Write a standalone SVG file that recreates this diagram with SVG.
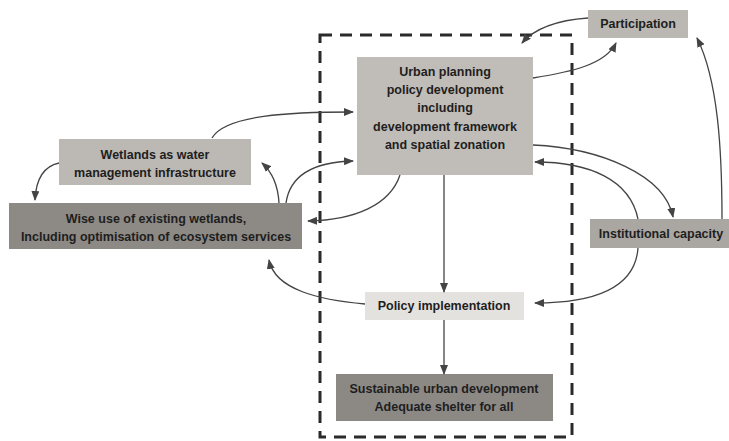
<svg xmlns="http://www.w3.org/2000/svg" width="729" height="441" viewBox="0 0 729 441">
<style>
text{font-family:"Liberation Sans",Arial,sans-serif;font-weight:bold;font-size:12.5px;fill:#1e1e1e;text-anchor:middle}
.c{fill:none;stroke:#444;stroke-width:1.3}
</style>
<defs>
<marker id="ah" markerWidth="10" markerHeight="8" refX="9" refY="4" orient="auto" markerUnits="userSpaceOnUse">
<path d="M0,0 L10,4 L0,8 z" fill="#444"/>
</marker>
</defs>
<rect width="729" height="441" fill="#fff"/>
<rect id="boundary" x="320" y="35" width="252" height="402" fill="none" stroke="#2a2a2a" stroke-width="3" stroke-dasharray="12,8"/>
<g id="n-urban"><rect x="357" y="57" width="176" height="118" fill="#c0bcb7"/>
<text x="445" y="76">Urban planning</text><text x="445" y="94">policy development</text><text x="445" y="112">including</text><text x="445" y="131">development framework</text><text x="445" y="149">and spatial zonation</text></g>
<g id="n-participation"><rect x="588" y="10" width="100" height="28" fill="#bbb7b2"/><text x="638" y="28">Participation</text></g>
<g id="n-institutional"><rect x="590" y="219" width="139" height="29" fill="#aaa6a1"/><text x="661" y="238">Institutional capacity</text></g>
<g id="n-policy"><rect x="365" y="292" width="159" height="28" fill="#e4e2df"/><text x="444" y="310">Policy implementation</text></g>
<g id="n-sustainable"><rect x="336" y="374" width="217" height="47" fill="#8c8985"/><text x="444" y="393">Sustainable urban development</text><text x="444" y="411">Adequate shelter for all</text></g>
<g id="n-wetlands"><rect x="59" y="139" width="192" height="46" fill="#bcb8b3"/><text x="155" y="159">Wetlands as water</text><text x="155" y="177">management infrastructure</text></g>
<g id="n-wiseuse"><rect x="9" y="203" width="293" height="46" fill="#8d8a85"/><text x="156" y="223">Wise use of existing wetlands,</text><text x="156" y="241">Including optimisation of ecosystem services</text></g>
<g id="connectors">
<path class="c" d="M444,175 L444,292" marker-end="url(#ah)"/>
<path class="c" d="M444,320 L444,374" marker-end="url(#ah)"/>
<path class="c" d="M588,18 C560,20 535,28 522,43" marker-end="url(#ah)"/>
<path class="c" d="M533,78 C570,72 605,65 616,43" marker-end="url(#ah)"/>
<path class="c" d="M722,219 C722,150 718,80 697,38" marker-end="url(#ah)"/>
<path class="c" d="M533,145 C600,148 665,175 673,217" marker-end="url(#ah)"/>
<path class="c" d="M638,219 C630,180 590,162 535,162" marker-end="url(#ah)"/>
<path class="c" d="M638,248 C635,290 590,303 535,303" marker-end="url(#ah)"/>
<path class="c" d="M365,304 C320,300 275,290 269,260" marker-end="url(#ah)"/>
<path class="c" d="M286,203 C290,175 315,162 353,161" marker-end="url(#ah)"/>
<path class="c" d="M400,175 C390,205 355,220 308,221" marker-end="url(#ah)"/>
<path class="c" d="M279,203 C278,185 272,172 262,163" marker-end="url(#ah)"/>
<path class="c" d="M212,138 C225,115 290,112 353,112" marker-end="url(#ah)"/>
<path class="c" d="M59,163 C45,166 36,178 35,200" marker-end="url(#ah)"/>
</g>
</svg>
